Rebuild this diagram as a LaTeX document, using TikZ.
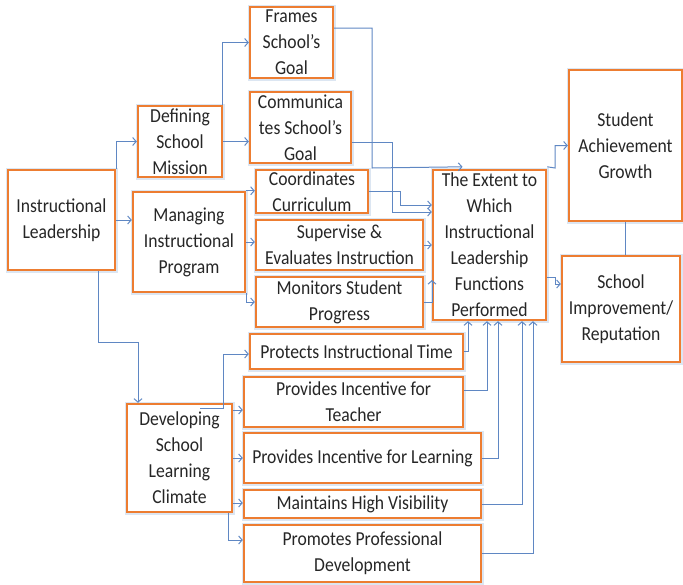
\documentclass[tikz,border=0pt]{standalone}
\usepackage{fontspec}
\setmainfont{Carlito}[FakeStretch=0.89]
\usetikzlibrary{arrows.meta,calc}
\definecolor{boxorange}{RGB}{237,125,49}
\definecolor{halo}{RGB}{220,230,242}
\definecolor{linkblue}{RGB}{95,135,195}
\begin{document}
\begin{tikzpicture}[x=1pt,y=-1pt,
  box/.style={draw=boxorange, line width=2.4pt, fill=white, align=center, inner sep=0pt,
    preaction={draw=halo, line width=5pt},
    font=\fontsize{19.8}{26}\selectfont, text=black!85},
  conn/.style={draw=linkblue, line width=1pt, -{Straight Barb[length=3.5pt,width=8pt]}},
  plain/.style={draw=linkblue, line width=1pt}]
\useasboundingbox (0,0) rectangle (683,584);
% boxes
\node[box, minimum width=107, minimum height=100] (il) at (61.5,220) {Instructional\\Leadership};
\node[box, minimum width=84, minimum height=71] (dsm) at (180,141.5) {Defining\\School\\Mission};
\node[box, minimum width=83, minimum height=71] (fsg) at (291.5,42.5) {Frames\\School’s\\Goal};
\node[box, minimum width=101, minimum height=71] (csg) at (300.5,127.5) {Communica\\tes School’s\\Goal};
\node[box, minimum width=112, minimum height=43] (cc) at (312,191.5) {Coordinates\\Curriculum};
\node[box, minimum width=112, minimum height=100] (mip) at (189,242) {Managing\\Instructional\\Program};
\node[box, minimum width=167, minimum height=50] (sei) at (339.5,245) {Supervise \&\\Evaluates Instruction};
\node[box, minimum width=167, minimum height=50] (msp) at (339.5,302) {Monitors Student\\Progress};
\node[box, minimum width=113, minimum height=150] (ext) at (489.5,245) {The Extent to\\Which\\Instructional\\Leadership\\Functions\\Performed};
\node[box, minimum width=113, minimum height=151] (sag) at (625.5,145.5) {Student\\Achievement\\Growth};
\node[box, minimum width=118, minimum height=106] (sir) at (621,309) {School\\Improvement/\\Reputation};
\node[box, minimum width=213, minimum height=35] (pit) at (356.5,351.5) {Protects Instructional Time};
\node[box, minimum width=219, minimum height=50] (pit2) at (353.5,402) {Provides Incentive for\\Teacher};
\node[box, minimum width=105, minimum height=108] (dev) at (179.5,458) {Developing\\School\\Learning\\Climate};
\node[box, minimum width=237, minimum height=50] (pil) at (362.5,458) {Provides Incentive for Learning};
\node[box, minimum width=237, minimum height=28] (mhv) at (362.5,504) {Maintains High Visibility};
\node[box, minimum width=237, minimum height=57] (ppd) at (362.5,553.5) {Promotes Professional\\Development};
% helper coordinates
\coordinate (d1) at (138,342);
\coordinate (f1) at (372,168);
\coordinate (c1) at (392,212);
\coordinate (c2) at (400,205);
\coordinate (m1) at (432,280);
\coordinate (e1) at (555,168);
\coordinate (e2) at (555,277);
\coordinate (d2) at (200,408);
\coordinate (d3) at (223,408);
\coordinate (d4) at ([yshift=48pt]dev.east);
\coordinate (d5) at ([yshift=-45pt]dev.east);
% connectors from Instructional Leadership
\draw[conn] (il.north east) |- (dsm.west);
\draw[conn] (il.east) -- (il.east -| mip.west);
\draw[conn] ([xshift=-18pt]il.south east) |- (d1) -- (d1 |- dev.north);
% Defining School Mission
\draw[conn] ([xshift=-1pt]dsm.north east) |- (fsg.west);
\draw[conn] (dsm.east) -- (dsm.east -| csg.west);
% Managing Instructional Program
\draw[conn] (mip.north east) -- (mip.north east -| cc.west);
\draw[conn] (mip.east) -- (mip.east -| sei.west);
\draw[conn] (mip.south east) |- (msp.west);
% into The Extent
\draw[conn] ([yshift=14.5pt]fsg.east) -| (f1) -- ([xshift=-27pt,yshift=2pt]ext.north);
\draw[conn] ([yshift=-14.5pt]csg.east) -| (c1) -- (c1 -| ext.west);
\draw[conn] (cc.east) -| (c2) -- (c2 -| ext.west);
\draw[conn] (sei.east) -- (sei.east -| ext.west);
\draw[conn] (msp.east) -| (m1);
\draw[conn] (pit.east) -| ([xshift=-21.5pt]ext.south);
\draw[conn] ([yshift=12pt]pit2.east) -| ([xshift=-2.5pt]ext.south);
\draw[conn] (pil.east) -| ([xshift=8.5pt]ext.south);
\draw[conn] (mhv.east) -| ([xshift=32.5pt]ext.south);
\draw[conn] (ppd.east) -| ([xshift=43.5pt]ext.south);
% out of The Extent
\draw[conn] ([yshift=2pt]ext.north east) -- (e1) |- (sag.west);
\draw[conn] ([yshift=-32pt]ext.east) -- (e2) |- ([yshift=25pt]sir.west);
\draw[plain] (sag.south) -- (sag.south |- sir.north);
% Developing School Learning Climate
\draw[conn] (d2) -- (d3) |- ([yshift=-2.5pt]pit.west);
\draw[conn] (d4) -- (d4 -| pit2.west);
\draw[conn] (dev.east) -- (dev.east -| pil.west);
\draw[conn] (d5) -- (d5 -| mhv.west);
\draw[conn] ([xshift=-5pt]dev.south east) |- ([yshift=13.5pt]ppd.west);
\end{tikzpicture}
\end{document}
